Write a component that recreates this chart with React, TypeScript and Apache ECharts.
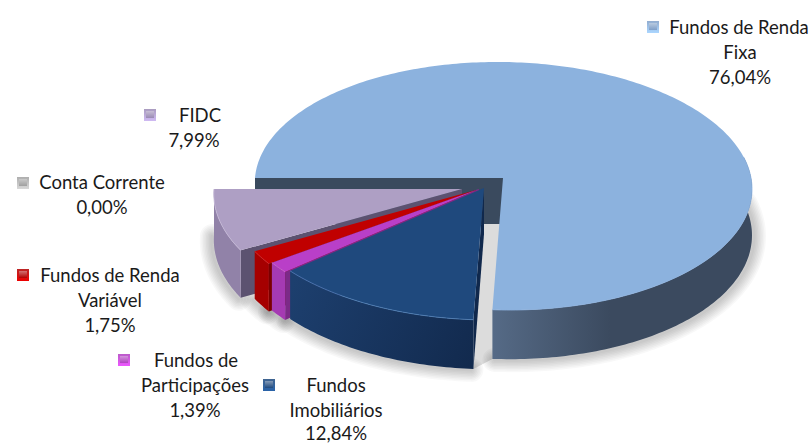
import React, { useEffect, useRef } from "react";
import * as echarts from "echarts";

// Data, clockwise from the 9 o'clock edge of the large slice
const names = [
  ["Fundos de Renda", "Fixa"],
  ["Fundos", "Imobiliários"],
  ["Fundos de", "Participações"],
  ["Fundos de Renda", "Variável"],
  ["Conta Corrente"],
  ["FIDC"],
];
const values = [76.04, 12.84, 1.39, 1.75, 0.0, 7.99];

// Styles
const topColors = ["#8cb2de", "#1f497d", "#b93fc8", "#c00000", "#a6a6a6", "#ae9fc4"];
const wallColors = ["#3b4a5f", "#16305a", "#a53ab3", "#a50000", "#888888", "#9182a8"];
const endColors = ["#3a4a5e", "#10284c", "#7c2a88", "#7a0000", "#666666", "#5c5270"];
const rimColors = ["#8cb2de", "#4f7fb8", "#d070dc", "#e03030", "#cccccc", "#c4b8d6"];
const keyColors = ["#7f9fc8", "#1f497d", "#b040c0", "#b00000", "#a0a0a0", "#9a8ab4"];

// Layout of the projected disc
const START = 270;
const R = 248;
const RK = 123.5;
const P = 0.0645;
const SHEAR = 0.05;
const DEPTH = 46;
const apexes = [
  [503, 178],
  [484, 188],
  [479, 189],
  [476, 190],
  [470, 190],
  [462, 189],
];
const keyPos = [
  [653, 27],
  [269, 385],
  [124, 360],
  [23, 275],
  [23, 183],
  [150, 115],
];
// [center x, y] of each text line
const textPos = [
  [[739, 27], [740, 52], [740, 77]],
  [[336, 385], [336, 410], [336, 433]],
  [[196, 360], [195, 385], [195, 410]],
  [[110, 275], [110, 300], [110, 325]],
  [[102, 182], [102, 207]],
  [[200, 115], [194, 140]],
];
const shadowWidths = [24, 21, 18, 15, 12, 9, 6, 3];

const total = values.reduce((a, b) => a + b, 0);
const rad = (d: number) => (d * Math.PI) / 180;

function pt(apex: number[], a: number, down: boolean): number[] {
  const X = Math.sin(rad(a));
  const Y = Math.cos(rad(a));
  const s = 1 / (1 + P * Y);
  const dy = -RK * Y * s;
  return [apex[0] + R * X * s + SHEAR * dy, apex[1] + dy + (down ? DEPTH * s : 0)];
}
function arc(apex: number[], a0: number, a1: number, down: boolean): number[][] {
  const pts: number[][] = [];
  const n = Math.max(2, Math.ceil(Math.abs(a1 - a0)));
  for (let i = 0; i <= n; i++) pts.push(pt(apex, a0 + ((a1 - a0) * i) / n, down));
  return pts;
}
function sliceAngles(i: number): number[] {
  let a = START;
  for (let k = 0; k < i; k++) a += (values[k] / total) * 360;
  return [a, a + (values[i] / total) * 360];
}

function renderItem(params: any, api: any) {
  const i = params.dataIndex;
  if (api.value(0) <= 0) return { type: "group", children: [] };
  const [a0, a1] = sliceAngles(i);
  const apex = apexes[i];
  const z = i === 0 ? 1 : 20 - i * 2;
  const down = [apex[0], apex[1] + DEPTH];
  const children: any[] = [];

  // front part of the outer wall
  let f0 = a0;
  let f1 = a1;
  if (a1 > 360) {
    f0 = a0 - 360;
    f1 = a1 - 360;
  }
  f0 = Math.max(f0, 80);
  f1 = Math.min(f1, 280);

  const wallTop = arc(apex, f0, f1, false);
  const wallBottom = arc(apex, f0, f1, true);
  const wallPts = wallTop.concat(wallBottom.slice().reverse());

  // soft shadow on the floor, stacked translucent strokes
  shadowWidths.forEach((w) => {
    children.push({
      type: "polyline",
      silent: true,
      z2: -5,
      x: i === 0 ? 2 : -2,
      y: 1,
      shape: { points: wallBottom },
      style: {
        fill: "none",
        stroke: "rgba(0,0,0,0.028)",
        lineWidth: w,
        lineCap: "round",
        lineJoin: "round",
      },
    });
  });

  // radial wall at the start edge
  const o0 = pt(apex, a0, false);
  const o0d = pt(apex, a0, true);
  children.push({
    type: "polygon",
    silent: true,
    z2: z,
    shape: { points: [apex, o0, o0d, down] },
    style: { fill: endColors[i] },
  });

  // outer wall
  let wallFill: any = wallColors[i];
  if (i === 0) {
    wallFill = new echarts.graphic.LinearGradient(
      490, 0, 610, 0,
      [
        { offset: 0, color: "#566b87" },
        { offset: 1, color: "#3b4a5f" },
      ],
      true
    );
  } else if (i === 1) {
    wallFill = new echarts.graphic.LinearGradient(
      290, 290, 470, 370,
      [
        { offset: 0, color: "#1d3f6e" },
        { offset: 1, color: "#122a4e" },
      ],
      true
    );
  }
  children.push({
    type: "polygon",
    silent: true,
    z2: z + 0.2,
    shape: { points: wallPts },
    style: { fill: wallFill },
  });

  // top face
  children.push({
    type: "polygon",
    silent: true,
    z2: z + 0.4,
    shape: { points: [apex].concat(arc(apex, a0, a1, false)) },
    style: { fill: topColors[i] },
  });

  // rim highlight
  children.push({
    type: "polyline",
    silent: true,
    z2: z + 0.6,
    shape: { points: wallTop },
    style: { fill: "none", stroke: rimColors[i], lineWidth: 1, opacity: 0.8 },
  });

  return { type: "group", children };
}

function labelGraphics(): any[] {
  const out: any[] = [];
  names.forEach((lines, i) => {
    const [kx, ky] = keyPos[i];
    const c = keyColors[i];
    out.push({
      type: "rect",
      silent: true,
      shape: { x: kx - 6, y: ky - 6, width: 12, height: 12 },
      style: {
        fill: new echarts.graphic.LinearGradient(0, 0, 0, 1, [
          { offset: 0, color: echarts.color.lift(c, 0.15) },
          { offset: 1, color: echarts.color.lift(c, -0.35) },
        ]),
      },
    });
    out.push({
      type: "rect",
      silent: true,
      shape: { x: kx - 4, y: ky - 4, width: 8, height: 7 },
      style: {
        fill: new echarts.graphic.LinearGradient(0, 0, 0, 1, [
          { offset: 0, color: echarts.color.lift(c, 0.45) },
          { offset: 1, color: c },
        ]),
      },
    });
    const pct = values[i].toFixed(2).replace(".", ",") + "%";
    lines.concat([pct]).forEach((text, j) => {
      const [tx, ty] = textPos[i][j];
      out.push({
        type: "text",
        silent: true,
        x: tx,
        y: ty,
        style: {
          text,
          fill: "#1a1a1a",
          font: '18.5px Lato, "Open Sans", sans-serif',
          textAlign: "center",
          textVerticalAlign: "middle",
        },
      });
    });
  });
  return out;
}

function gapShape(): any {
  // the lit floor seen through the gap between the two exploded parts
  const [, a1] = sliceAngles(0);
  const points = [
    [apexes[0][0], apexes[0][1] + DEPTH],
    pt(apexes[0], a1, true),
    pt(apexes[1], a1, true),
    pt(apexes[1], a1, false),
    apexes[1],
  ];
  return {
    type: "polygon",
    silent: true,
    z: 0,
    shape: { points },
    style: { fill: "#dcdcdc" },
  };
}

export default function App() {
  const ref = useRef<HTMLDivElement>(null);
  useEffect(() => {
    const chart = echarts.init(ref.current!, undefined, { renderer: "svg" });
    chart.setOption({
      animation: false,
      backgroundColor: "#ffffff",
      graphic: { elements: [gapShape(), ...labelGraphics()] },
      series: [
        {
          type: "custom",
          coordinateSystem: "none",
          clip: false,
          z: 1,
          renderItem,
          data: values.map((v) => [v]),
        },
      ],
    });
    return () => chart.dispose();
  }, []);
  return (
    <div
      ref={ref}
      style={{ position: "absolute", left: 0, top: 0, width: 809, height: 446 }}
    />
  );
}
